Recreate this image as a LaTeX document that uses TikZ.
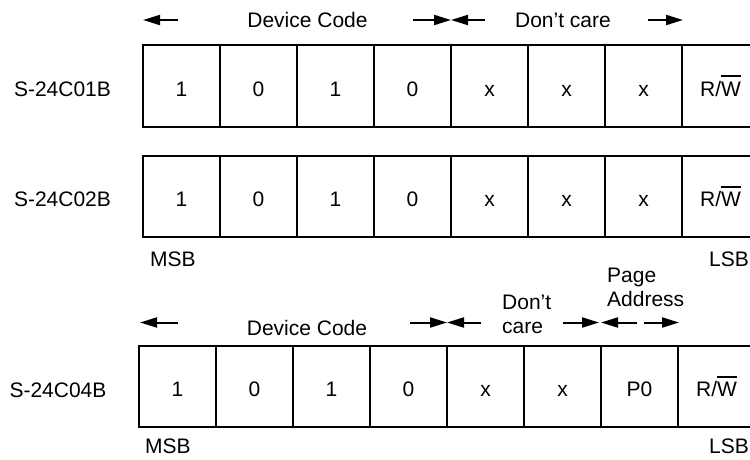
\documentclass[tikz,border=0pt]{standalone}
\usepackage{fontspec}
\setmainfont{Liberation Sans}
\usetikzlibrary{arrows.meta}
\newcommand\ovlW{\leavevmode\vbox{\hrule height 1.6pt\kern 4.5pt\hbox{W}}}
\begin{document}
\begin{tikzpicture}[x=1pt,y=-1pt,font=\fontsize{21}{24}\selectfont]
\tikzset{
  cell/.style={draw, line width=1.6pt, minimum width=77pt, minimum height=81.5pt,
    inner sep=0pt, text height=20pt, text depth=0pt, anchor=center},
  lbl/.style={inner sep=0pt},
  dimarrow/.style={line width=2pt, -{Triangle[length=17pt,width=10pt]}}
}
\useasboundingbox (0,0) rectangle (750,459);
\clip (0,0) rectangle (750,459);
% ---- Row 1
\node[lbl, anchor=base] (n1) at (62.5,96) {S-24C01B};
\node[cell] (a1) at (181.5,86) {1};
\node[cell] (a2) at (258.5,86) {0};
\node[cell] (a3) at (335.5,86) {1};
\node[cell] (a4) at (412.5,86) {0};
\node[cell] (a5) at (489.5,86) {x};
\node[cell] (a6) at (566.5,86) {x};
\node[cell] (a7) at (643.5,86) {x};
\node[cell] (a8) at (720.5,86) {R/\ovlW};
% header row 1
\node[lbl, anchor=base] (dc1) at (307.5,27) {Device Code};
\node[lbl, anchor=base] (dn1) at (563,27) {Don’t care};
\coordinate (p1a) at (178,20); \coordinate (p1b) at (143,20);
\coordinate (p1c) at (413,20); \coordinate (p1d) at (451,20); \coordinate (p1e) at (485,20);
\coordinate (p1f) at (648,20); \coordinate (p1g) at (683,20);
\draw[dimarrow] (p1a) -- (p1b);
\draw[dimarrow] (p1c) -- (p1d);
\draw[dimarrow] (p1e) -- (p1d);
\draw[dimarrow] (p1f) -- (p1g);
% ---- Row 2
\node[lbl, anchor=base] (n2) at (62.5,206.5) {S-24C02B};
\node[cell] (b1) at (181.5,196.5) {1};
\node[cell] (b2) at (258.5,196.5) {0};
\node[cell] (b3) at (335.5,196.5) {1};
\node[cell] (b4) at (412.5,196.5) {0};
\node[cell] (b5) at (489.5,196.5) {x};
\node[cell] (b6) at (566.5,196.5) {x};
\node[cell] (b7) at (643.5,196.5) {x};
\node[cell] (b8) at (720.5,196.5) {R/\ovlW};
\node[lbl, anchor=base west] (m2) at (150,266) {MSB};
\node[lbl, anchor=base east] (l2) at (749,266) {LSB};
% ---- Row 3
\node[lbl, anchor=base] (n3) at (58,397) {S-24C04B};
\node[cell] (c1) at (177.5,386.5) {1};
\node[cell] (c2) at (254.5,386.5) {0};
\node[cell] (c3) at (331.5,386.5) {1};
\node[cell] (c4) at (408.5,386.5) {0};
\node[cell] (c5) at (485.5,386.5) {x};
\node[cell] (c6) at (562.5,386.5) {x};
\node[cell] (c7) at (639.5,386.5) {P0};
\node[cell] (c8) at (716.5,386.5) {R/\ovlW};
\node[lbl, anchor=base west] (m3) at (145,453) {MSB};
\node[lbl, anchor=base east] (l3) at (749,453) {LSB};
% header row 3
\node[lbl, anchor=base] (dc3) at (307,335) {Device Code};
\node[lbl, anchor=south west, align=left] (dn3) at (502,334) {Don’t\\care};
\node[lbl, anchor=south west, align=left] (pa3) at (607,306.5) {Page\\Address};
\coordinate (p3a) at (178,322.5); \coordinate (p3b) at (140,322.5);
\coordinate (p3c) at (410,322.5); \coordinate (p3d) at (447,322.5); \coordinate (p3e) at (481,322.5);
\coordinate (p3f) at (563,322.5); \coordinate (p3g) at (599,322.5);
\coordinate (p3h) at (637,322.5); \coordinate (p3i) at (601,322.5);
\coordinate (p3j) at (644,322.5); \coordinate (p3k) at (679,322.5);
\draw[dimarrow] (p3a) -- (p3b);
\draw[dimarrow] (p3c) -- (p3d);
\draw[dimarrow] (p3e) -- (p3d);
\draw[dimarrow] (p3f) -- (p3g);
\draw[dimarrow] (p3h) -- (p3i);
\draw[dimarrow] (p3j) -- (p3k);
\end{tikzpicture}
\end{document}
